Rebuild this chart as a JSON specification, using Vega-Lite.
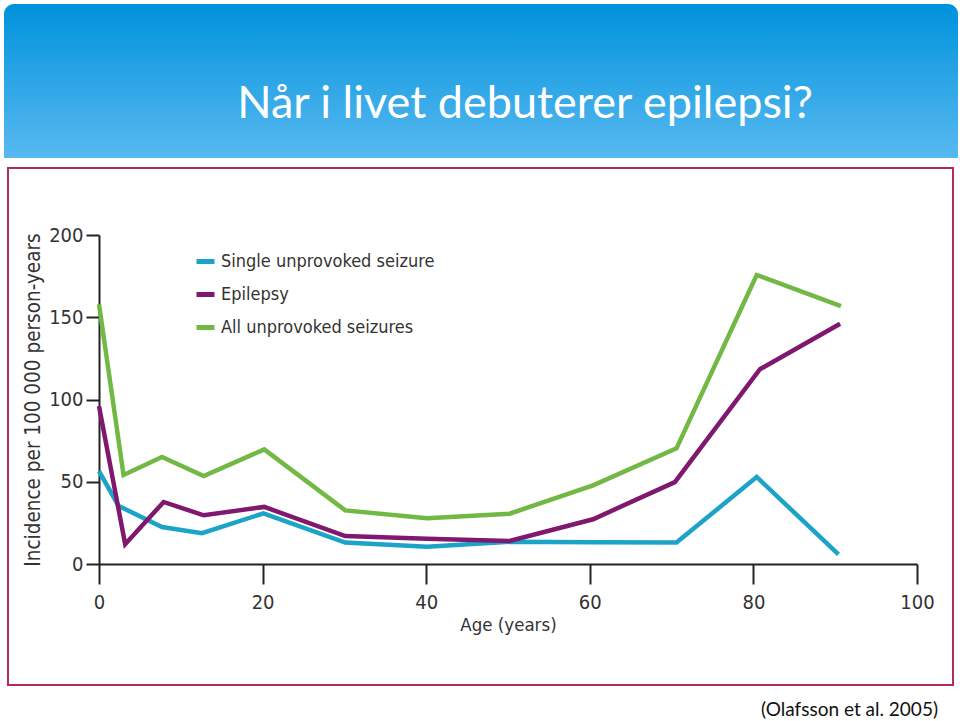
{
  "$schema": "https://vega.github.io/schema/vega-lite/v6.json",
  "padding": {"left": 4, "top": 4, "right": 0, "bottom": 0},
  "background": "white",
  "spacing": 9,
  "center": true,
  "config": {"view": {"stroke": null}},
  "vconcat": [
    {
      "width": 954,
      "height": 154,
      "data": {"values": [{"title": "Når i livet debuterer epilepsi?"}]},
      "layer": [
        {
          "mark": {
            "type": "rect",
            "cornerRadiusTopLeft": 10,
            "cornerRadiusTopRight": 10,
            "fill": {"gradient": "linear", "x1": 0, "y1": 0, "x2": 0, "y2": 1,
              "stops": [{"offset": 0, "color": "#0092DC"}, {"offset": 1, "color": "#58B9F0"}]}
          },
          "encoding": {}
        },
        {
          "mark": {"type": "text", "font": "Lato", "fontSize": 45, "color": "white", "dx": 44, "dy": 37, "baseline": "alphabetic", "align": "center"},
          "encoding": {"text": {"field": "title"}}
        }
      ]
    },
    {
      "width": 945,
      "height": 517,
      "view": {"stroke": "#B22A5E", "strokeWidth": 2, "fill": "white"},
      "title": {"text": "(Olafsson et al. 2005)", "orient": "bottom", "anchor": "end", "font": "Lato", "fontSize": 19, "fontWeight": "normal", "color": "#111", "offset": 16, "dx": -15},
      "data": {"values": [
        {"series": "Single unprovoked seizure", "age": 0, "value": 56.5},
        {"series": "Single unprovoked seizure", "age": 2.4, "value": 35.3},
        {"series": "Single unprovoked seizure", "age": 7.7, "value": 22.5},
        {"series": "Single unprovoked seizure", "age": 12.6, "value": 18.7},
        {"series": "Single unprovoked seizure", "age": 20.1, "value": 30.8},
        {"series": "Single unprovoked seizure", "age": 30.1, "value": 13},
        {"series": "Single unprovoked seizure", "age": 40.1, "value": 10.5},
        {"series": "Single unprovoked seizure", "age": 50.2, "value": 13.5},
        {"series": "Single unprovoked seizure", "age": 60.4, "value": 13.2},
        {"series": "Single unprovoked seizure", "age": 70.6, "value": 13},
        {"series": "Single unprovoked seizure", "age": 80.4, "value": 52.9},
        {"series": "Single unprovoked seizure", "age": 90.4, "value": 5.9},
        {"series": "Epilepsy", "age": 0, "value": 96},
        {"series": "Epilepsy", "age": 3.2, "value": 12},
        {"series": "Epilepsy", "age": 7.9, "value": 37.7},
        {"series": "Epilepsy", "age": 12.8, "value": 29.6},
        {"series": "Epilepsy", "age": 20.2, "value": 34.7},
        {"series": "Epilepsy", "age": 30.1, "value": 17},
        {"series": "Epilepsy", "age": 40.1, "value": 15.4},
        {"series": "Epilepsy", "age": 50.2, "value": 14},
        {"series": "Epilepsy", "age": 60.4, "value": 27.2},
        {"series": "Epilepsy", "age": 70.4, "value": 49.8},
        {"series": "Epilepsy", "age": 80.8, "value": 118.4},
        {"series": "Epilepsy", "age": 90.6, "value": 146},
        {"series": "All unprovoked seizures", "age": 0, "value": 157.9},
        {"series": "All unprovoked seizures", "age": 3, "value": 54.1},
        {"series": "All unprovoked seizures", "age": 7.7, "value": 65},
        {"series": "All unprovoked seizures", "age": 12.8, "value": 53.5},
        {"series": "All unprovoked seizures", "age": 20.2, "value": 69.7},
        {"series": "All unprovoked seizures", "age": 30.1, "value": 32.6},
        {"series": "All unprovoked seizures", "age": 40.1, "value": 27.8},
        {"series": "All unprovoked seizures", "age": 50.2, "value": 30.6},
        {"series": "All unprovoked seizures", "age": 60.4, "value": 47.8},
        {"series": "All unprovoked seizures", "age": 70.6, "value": 70.3},
        {"series": "All unprovoked seizures", "age": 80.4, "value": 175.7},
        {"series": "All unprovoked seizures", "age": 90.7, "value": 156.8}
      ]},
      "mark": {"type": "line", "strokeWidth": 4.5, "strokeCap": "butt"},
      "encoding": {
        "x": {
          "field": "age", "type": "quantitative",
          "scale": {"domain": [0, 100], "range": [91, 909], "nice": false, "zero": false},
          "axis": {
            "orient": "bottom", "offset": -121, "values": [0, 20, 40, 60, 80, 100],
            "grid": false, "tickSize": 20, "tickWidth": 2, "tickColor": "#222",
            "domainColor": "#222", "domainWidth": 2, "labelFlush": false,
            "labelFont": "Liberation Sans Narrow, DejaVu Sans Condensed, sans-serif",
            "labelFontSize": 20, "labelColor": "#333", "labelPadding": 8,
            "title": "Age (years)",
            "titleFont": "Liberation Sans Narrow, DejaVu Sans Condensed, sans-serif",
            "titleFontSize": 18.5, "titleFontWeight": "normal", "titleColor": "#333", "titlePadding": 3
          }
        },
        "y": {
          "field": "value", "type": "quantitative",
          "scale": {"domain": [0, 200], "range": [396, 67], "nice": false},
          "axis": {
            "orient": "left", "offset": -91, "values": [0, 50, 100, 150, 200],
            "grid": false, "tickSize": 13, "tickWidth": 2, "tickColor": "#222",
            "domainColor": "#222", "domainWidth": 2, "labelFlush": false,
            "labelFont": "Liberation Sans Narrow, DejaVu Sans Condensed, sans-serif",
            "labelFontSize": 20, "labelColor": "#333", "labelPadding": 3,
            "title": "Incidence per 100 000 person-years",
            "titleFont": "Liberation Sans Narrow, DejaVu Sans Condensed, sans-serif",
            "titleFontSize": 20.5, "titleFontWeight": "normal", "titleColor": "#333", "titlePadding": 5
          }
        },
        "color": {
          "field": "series", "type": "nominal",
          "scale": {
            "domain": ["Single unprovoked seizure", "Epilepsy", "All unprovoked seizures"],
            "range": ["#1CA3C8", "#80186F", "#72B844"]
          },
          "legend": {
            "orient": "none", "legendX": 190, "legendY": 246, "title": null,
            "symbolType": "stroke", "symbolSize": 324, "symbolStrokeWidth": 5,
            "labelFont": "Liberation Sans Narrow, DejaVu Sans Condensed, sans-serif",
            "labelFontSize": 18, "labelColor": "#333", "labelOffset": 4, "rowPadding": 11, "labelLimit": 400
          }
        }
      }
    }
  ]
}
